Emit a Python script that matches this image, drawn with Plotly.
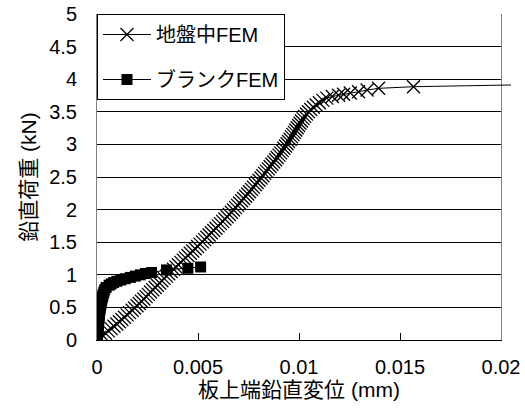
import plotly.graph_objects as go

# ---- data ----
# 地盤中FEM  (displacement mm, load kN)
ground_x = [0.0, 0.00014, 0.00028, 0.00042, 0.00056, 0.00070, 0.00084, 0.00098, 0.00111, 0.00123,
            0.00136, 0.00149, 0.00161, 0.00174, 0.00186, 0.00198, 0.00209, 0.00220, 0.00232, 0.00243,
            0.00254, 0.00265, 0.00276, 0.00288, 0.00299, 0.00310, 0.00321, 0.00332, 0.00344, 0.00355,
            0.00367, 0.00379, 0.00391, 0.00403, 0.00415, 0.00427, 0.00438, 0.00450, 0.00462, 0.00474,
            0.00486, 0.00498, 0.00510, 0.00522, 0.00533, 0.00544, 0.00555, 0.00566, 0.00578, 0.00589,
            0.00600, 0.00611, 0.00622, 0.00633, 0.00644, 0.00655, 0.00665, 0.00676, 0.00686, 0.00696,
            0.00706, 0.00716, 0.00726, 0.00736, 0.00746, 0.00755, 0.00765, 0.00774, 0.00784, 0.00793,
            0.00802, 0.00812, 0.00821, 0.00830, 0.00839, 0.00848, 0.00857, 0.00866, 0.00875, 0.00884,
            0.00892, 0.00901, 0.00909, 0.00917, 0.00925, 0.00933, 0.00941, 0.00948, 0.00956, 0.00963,
            0.00970, 0.00977, 0.00984, 0.00991, 0.00998, 0.01005, 0.01012, 0.01020, 0.01028, 0.01037,
            0.01047, 0.01058, 0.01071, 0.01085, 0.01101, 0.01118, 0.01138,
            0.01165, 0.01196, 0.01221, 0.01254, 0.01295, 0.01337, 0.01394, 0.01567, 0.02150]
ground_y = [0.0, 0.035, 0.070, 0.105, 0.140, 0.175, 0.210, 0.245, 0.280, 0.315,
            0.350, 0.385, 0.420, 0.455, 0.490, 0.525, 0.560, 0.595, 0.630, 0.665,
            0.700, 0.735, 0.770, 0.805, 0.840, 0.875, 0.910, 0.945, 0.980, 1.015,
            1.050, 1.085, 1.120, 1.155, 1.190, 1.225, 1.260, 1.295, 1.330, 1.365,
            1.400, 1.435, 1.470, 1.505, 1.540, 1.575, 1.610, 1.645, 1.680, 1.715,
            1.750, 1.785, 1.820, 1.855, 1.890, 1.925, 1.960, 1.995, 2.030, 2.065,
            2.100, 2.135, 2.170, 2.205, 2.240, 2.275, 2.310, 2.345, 2.380, 2.415,
            2.450, 2.485, 2.520, 2.555, 2.590, 2.625, 2.660, 2.695, 2.730, 2.765,
            2.800, 2.835, 2.870, 2.905, 2.940, 2.975, 3.010, 3.045, 3.080, 3.115,
            3.150, 3.185, 3.220, 3.255, 3.290, 3.325, 3.360, 3.395, 3.430, 3.465,
            3.500, 3.535, 3.570, 3.605, 3.640, 3.675, 3.710,
            3.735, 3.755, 3.770, 3.788, 3.808, 3.834, 3.860, 3.885, 3.917]

# ブランクFEM
blank_x = [0.0, 0.00001, 0.00002, 0.00003, 0.00004, 0.00005, 0.00006, 0.00007, 0.00008, 0.00009,
           0.00010, 0.00011, 0.00012, 0.00014, 0.00016, 0.00018, 0.00020, 0.00022, 0.00025, 0.00028,
           0.00030, 0.00034, 0.00038, 0.00045, 0.00060, 0.00070, 0.00082, 0.00098, 0.00118, 0.00140,
           0.00165, 0.00190, 0.00215, 0.00240, 0.00270,
           0.00344, 0.00450, 0.00513]
blank_y = [0.0, 0.035, 0.070, 0.105, 0.140, 0.175, 0.210, 0.245, 0.280, 0.315,
           0.350, 0.385, 0.420, 0.455, 0.490, 0.525, 0.560, 0.595, 0.630, 0.665,
           0.700, 0.735, 0.770, 0.805, 0.840, 0.860, 0.880, 0.900, 0.920, 0.940,
           0.960, 0.980, 1.000, 1.020, 1.035,
           1.075, 1.100, 1.120]

x_ticks = [0, 0.005, 0.01, 0.015, 0.02]
x_tick_labels = ["0", "0.005", "0.01", "0.015", "0.02"]
y_ticks = [0, 0.5, 1, 1.5, 2, 2.5, 3, 3.5, 4, 4.5, 5]
y_tick_labels = ["0", "0.5", "1", "1.5", "2", "2.5", "3", "3.5", "4", "4.5", "5"]

X_MAX = 0.02
MAIN_FRAC = 404 / 414  # main axis domain inside the (slightly wider) plot area

FONT = "Liberation Sans, Arial, Noto Sans CJK JP, sans-serif"

fig = go.Figure()

fig.add_trace(go.Scatter(
    x=ground_x, y=ground_y, name="地盤中FEM", mode="lines+markers",
    xaxis="x2", yaxis="y2", legendgroup="g1",
    line=dict(color="black", width=1),
    marker=dict(symbol="x-thin", size=13, line=dict(color="black", width=1.3)),
))
fig.add_trace(go.Scatter(
    x=blank_x, y=blank_y, name="ブランクFEM", mode="lines+markers",
    legendgroup="g2",
    line=dict(color="black", width=1),
    marker=dict(symbol="square", size=11, color="black", line=dict(width=0)),
))

fig.update_layout(
    width=525, height=412,
    margin=dict(l=97, r=14, t=14, b=72, autoexpand=False),
    paper_bgcolor="white", plot_bgcolor="rgba(0,0,0,0)",
    font=dict(family=FONT, size=20, color="black"),
    showlegend=True,
    legend=dict(x=0, y=1, xanchor="left", yanchor="top",
                bgcolor="white", bordercolor="black", borderwidth=1,
                font=dict(size=20), traceorder="grouped", tracegroupgap=16,
                itemwidth=48),
    xaxis=dict(domain=[0, MAIN_FRAC], range=[0, X_MAX], tickvals=x_ticks, ticktext=x_tick_labels,
               automargin=False,
               showgrid=False, zeroline=False, showline=True, linecolor="black", linewidth=1,
               ticks="inside", ticklen=7, tickcolor="black", ticklabelstandoff=9,
               title=dict(text="板上端鉛直変位 (mm)", font=dict(size=21), standoff=0)),
    yaxis=dict(range=[0, 5], tickvals=y_ticks, ticktext=y_tick_labels, automargin=False,
               showgrid=True, gridcolor="black", gridwidth=1, zeroline=False,
               showline=True, linecolor="#808080", linewidth=1, mirror=True,
               ticks="", ticklabelstandoff=15,
               title=dict(text="鉛直荷重 (kN)", font=dict(size=21), standoff=6)),
    xaxis2=dict(domain=[0, 1], range=[0, X_MAX / MAIN_FRAC], anchor="y2", visible=False,
                automargin=False),
    yaxis2=dict(domain=[0, 1], range=[0, 5], anchor="x2", visible=False, automargin=False),
)

# remove the default 8px page margin so the figure sits at the window's top-left corner
fig.write_html("out.html", config={"displayModeBar": False},
               post_script="document.body.style.margin='0';")
